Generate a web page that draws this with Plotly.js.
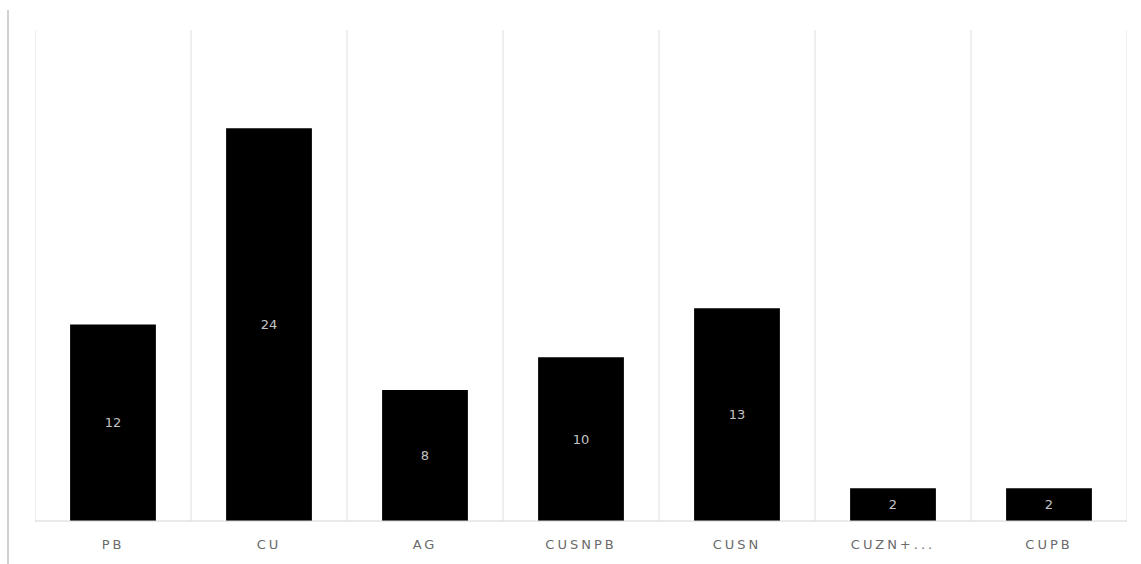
<!DOCTYPE html>
<html><head><meta charset="utf-8">
<script src="https://cdn.plot.ly/plotly-3.0.1.min.js"></script>
<style>
body{margin:0;background:#fff;}
.xtick text{letter-spacing:3px;}
</style>
</head><body>
<div id="chart" style="width:1141px;height:564px;"></div>
<script>
const categories = ["PB","CU","AG","CUSNPB","CUSN","CUZN+...","CUPB"];
const values = [12,24,8,10,13,2,2];
const labels = values.map(String);

const W=1141,H=564,L=35,R=14,T=30,B=43;
const shapes = [];
for (let i=0;i<=categories.length;i++){
  shapes.push({type:'line',xref:'x',yref:'paper',x0:i-0.5,x1:i-0.5,y0:0,y1:1,line:{color:'#dedede',width:1},layer:'below'});
}
shapes.push({type:'line',xref:'x',yref:'paper',x0:-0.5,x1:categories.length-0.5,y0:0,y1:0,line:{color:'#d4d4d4',width:1}});
const lx = (8-L)/(W-L-R);
shapes.push({type:'line',xref:'paper',yref:'paper',x0:lx,x1:lx,y0:-(B)/(H-T-B),y1:1+20/(H-T-B),line:{color:'#d0d0d0',width:2}});

Plotly.newPlot('chart',[{
  type:'bar',x:categories,y:values,text:labels,textposition:'inside',insidetextanchor:'middle',
  textfont:{color:'#c4c4c4',size:13,family:'DejaVu Sans'},
  marker:{color:'#000000'},width:0.55,hoverinfo:'none'
}],{
  width:W,height:H,margin:{l:L,r:R,t:T,b:B},
  paper_bgcolor:'#fff',plot_bgcolor:'#fff',showlegend:false,
  xaxis:{range:[-0.5,categories.length-0.5],showgrid:false,zeroline:false,showline:false,ticks:'',
    ticklabelstandoff:14,
    tickfont:{color:'#6a6a6a',size:13,family:'DejaVu Sans'}},
  yaxis:{range:[0,30],showgrid:false,zeroline:false,showticklabels:false,showline:false},
  shapes:shapes
},{staticPlot:true});
</script>
</body></html>
